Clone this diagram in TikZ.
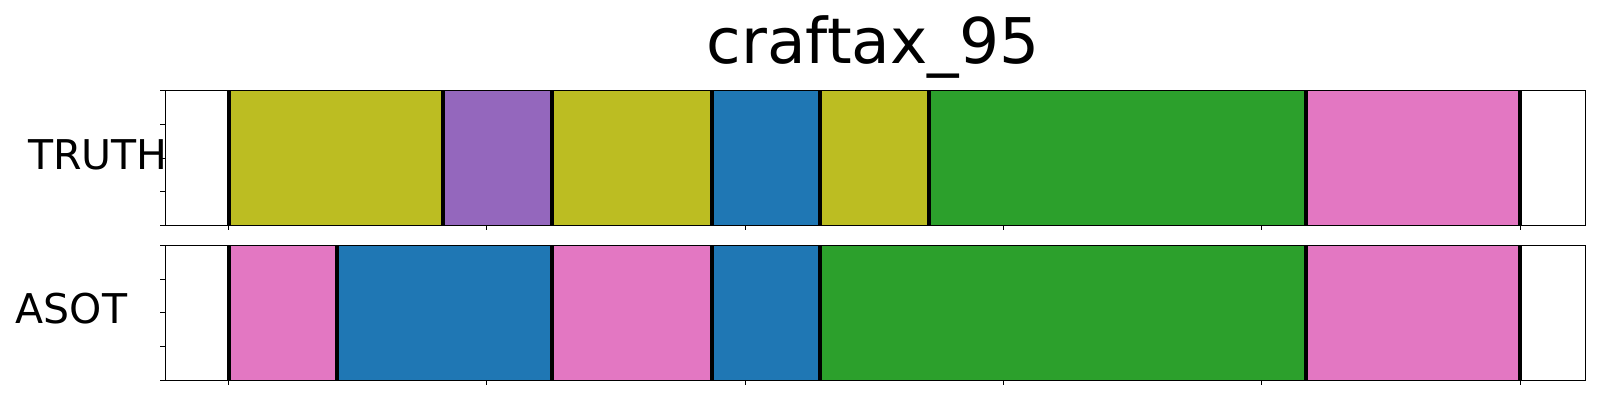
\documentclass[tikz,border=0pt]{standalone}
\usepackage{fontspec}
\setmainfont{DejaVu Sans}

\definecolor{tabolive}{HTML}{BCBD22}
\definecolor{tabpurple}{HTML}{9467BD}
\definecolor{tabblue}{HTML}{1F77B4}
\definecolor{tabgreen}{HTML}{2CA02C}
\definecolor{tabpink}{HTML}{E377C2}

\begin{document}
\begin{tikzpicture}[x=1pt, y=1pt,
    frame/.style={line width=1.3pt},
    bound/.style={line width=4pt},
    tickmark/.style={line width=1pt},
    rowlabel/.style={font=\fontsize{41}{48}\selectfont, anchor=base west, inner sep=0pt}]
    \useasboundingbox (0,0) rectangle (1600,400);
    \fill[white] (0,0) rectangle (1600,400);

    \node[font=\fontsize{63}{72}\selectfont, anchor=base, inner sep=0pt] (title) at (873,336.7) {craftax\_95};
    \node[rowlabel] (truth) at (28,231) {TRUTH};
    \node[rowlabel] (asot) at (15.5,76.7) {ASOT};

    % segments, in frame units
    \begin{scope}[xshift=228.7pt, x=2.5826pt]
        \foreach \a/\b/\c in {0/83/tabolive, 83/125/tabpurple, 125/187/tabolive, 187/229/tabblue, 229/271/tabolive, 271/417/tabgreen, 417/500/tabpink}
            \fill[\c] (\a,174.7) rectangle (\b,309.3);
        \foreach \a/\b/\c in {0/42/tabpink, 42/125/tabblue, 125/187/tabpink, 187/229/tabblue, 229/417/tabgreen, 417/500/tabpink}
            \fill[\c] (\a,19.7) rectangle (\b,154.7);
        \foreach \x in {0,83,125,187,229,271,417,500}
            \draw[bound] (\x,174.7) -- (\x,309.3);
        \foreach \x in {0,42,125,187,229,417,500}
            \draw[bound] (\x,19.7) -- (\x,154.7);
        \draw[frame] (-24.55,174.7) rectangle (525.27,309.3);
        \draw[frame] (-24.55,19.7) rectangle (525.27,154.7);
        \foreach \x in {0,100,...,500} {
            \draw[tickmark] (\x,174.7) -- ++(0,-5);
            \draw[tickmark] (\x,19.7) -- ++(0,-5);
        }
        \foreach \i in {0,...,4} {
            \draw[tickmark] (-24.55,174.7+33.65*\i) -- ++(-5pt,0);
            \draw[tickmark] (-24.55,19.7+33.75*\i) -- ++(-5pt,0);
        }
    \end{scope}
\end{tikzpicture}
\end{document}
